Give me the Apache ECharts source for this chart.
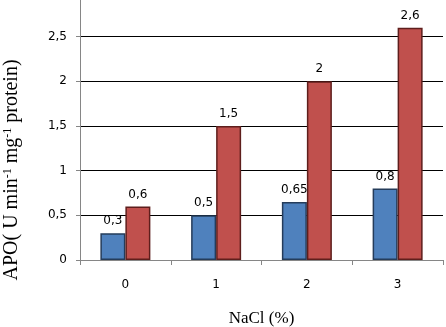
<!DOCTYPE html>
<html>
<head>
<meta charset="utf-8">
<script src="https://cdn.jsdelivr.net/npm/echarts@6/dist/echarts.min.js"></script>
<style>
  html, body { margin: 0; padding: 0; background: #fff; }
  #chart { width: 446px; height: 327px; }
</style>
</head>
<body>
<div id="chart"></div>
<script>
// NaCl concentration (%)
const categories = ['0', '1', '2', '3'];
const blueValues = [0.3, 0.5, 0.65, 0.8];
const redValues = [0.6, 1.5, 2, 2.6];

const comma = v => String(v).replace('.', ',');
const serif = '"Liberation Serif", "DejaVu Serif", serif';
const sans = '"DejaVu Sans", sans-serif';

const chart = echarts.init(document.getElementById('chart'));

const labelStyle = {
    show: true,
    position: 'top',
    distance: 6,
    color: '#000',
    fontSize: 12,
    fontFamily: sans,
    formatter: p => comma(p.value)
};

chart.setOption({
    animation: false,
    backgroundColor: '#fff',
    grid: { left: 80, right: 3, top: -8, bottom: 67, outerBoundsMode: 'none' },
    graphic: [{
        type: 'text',
        x: 12,
        y: 170,
        rotation: Math.PI / 2,
        style: {
            text: 'APO( U min{sup|-1} mg{sup|-1} protein)',
            font: '20px "Liberation Serif", serif',
            fill: '#000',
            align: 'center',
            verticalAlign: 'middle',
            rich: {
                sup: { fontFamily: serif, fontSize: 12, fill: '#000', verticalAlign: 'top', padding: [0, 0, 9, 0] }
            }
        }
    }],
    xAxis: {
        type: 'category',
        data: categories,
        name: 'NaCl (%)',
        nameLocation: 'middle',
        nameGap: 50,
        nameTextStyle: { fontFamily: serif, fontSize: 17, color: '#000' },
        axisLine: { lineStyle: { color: '#868686', width: 1 } },
        axisTick: { show: true, length: 5, alignWithLabel: false, lineStyle: { color: '#868686' } },
        axisLabel: { color: '#000', fontSize: 12, fontFamily: sans, margin: 19 }
    },
    yAxis: {
        type: 'value',
        min: 0,
        max: 3,
        interval: 0.5,
        axisLine: { show: true, lineStyle: { color: '#868686', width: 1 } },
        axisTick: { show: true, length: 4, lineStyle: { color: '#868686' } },
        axisLabel: { color: '#000', fontSize: 12, fontFamily: sans, margin: 13, formatter: v => comma(v) },
        splitLine: { show: true, lineStyle: { color: '#000', width: 1 } }
    },
    series: [
        {
            type: 'bar',
            data: blueValues,
            barWidth: 25,
            barGap: '0%',
            itemStyle: { color: '#4F81BD', borderColor: '#253c5a', borderWidth: 1.5 },
            label: labelStyle
        },
        {
            type: 'bar',
            data: redValues,
            barWidth: 25,
            itemStyle: { color: '#C0504D', borderColor: '#5e1e1c', borderWidth: 1.5 },
            label: labelStyle
        }
    ]
});
</script>
</body>
</html>
